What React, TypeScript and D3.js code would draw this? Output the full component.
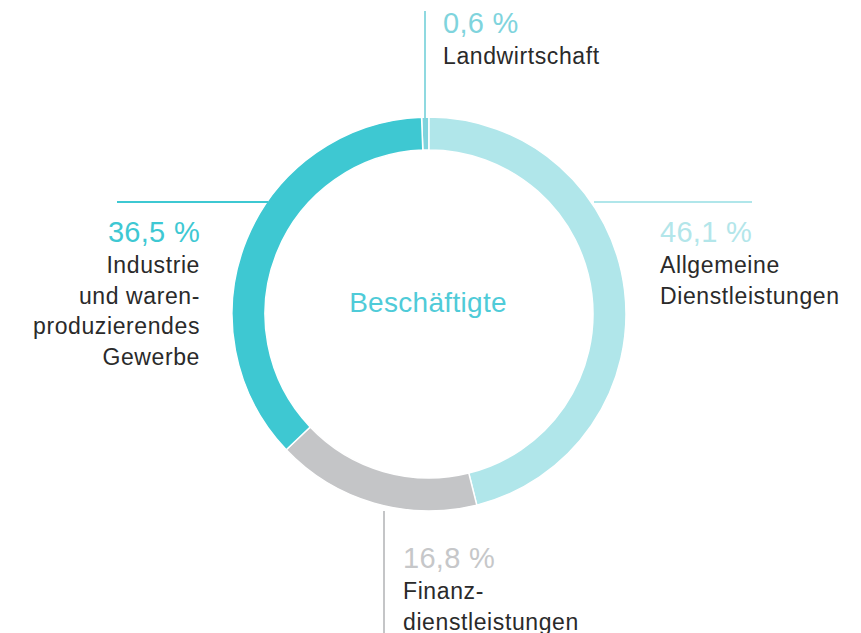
import React, { useEffect, useRef } from "react";
import * as d3 from "d3";

const categories = ["Landwirtschaft", "Allgemeine Dienstleistungen", "Finanzdienstleistungen", "Industrie und warenproduzierendes Gewerbe"];
const values = [0.6, 46.1, 16.8, 36.5];
const percentLabels = ["0,6 %", "46,1 %", "16,8 %", "36,5 %"];
const labelLines = [["Landwirtschaft"], ["Allgemeine", "Dienstleistungen"], ["Finanz-", "dienstleistungen"], ["Industrie", "und waren-", "produzierendes", "Gewerbe"]];
const centerTitle = "Beschäftigte";

const sliceColors = ["#7fd4dd", "#b0e6ea", "#c4c5c7", "#3ec8d2"];
const pctColors = ["#7fd4dd", "#b3e6ea", "#c6c7c9", "#3ec8d3"];

export default function App() {
  const ref = useRef<SVGSVGElement>(null);
  useEffect(() => {
    const svg = d3.select(ref.current);
    svg.selectAll("*").remove();
    const cx = 429, cy = 314, R = 197, r = 164;
    const font = "'Liberation Sans', Arial, sans-serif";
    const total = d3.sum(values);
    const off = (values[0] / total) * 2 * Math.PI;
    const pie = d3.pie<number>().sort(null).value((d) => d).startAngle(-off).endAngle(2 * Math.PI - off);
    const arcs = pie(values);
    const arc = d3.arc<d3.PieArcDatum<number>>().innerRadius(r).outerRadius(R);
    const g = svg.append("g").attr("transform", `translate(${cx},${cy})`);
    g.selectAll("path").data(arcs).join("path")
      .attr("d", arc as any)
      .attr("fill", (_d, i) => sliceColors[i])
      .attr("stroke", "#fff").attr("stroke-width", 1.5);

    const lines = [
      { x1: 425, y1: 11, x2: 425, y2: 118, c: "#8fd9e0" },
      { x1: 594, y1: 202, x2: 752, y2: 202, c: "#b0e6ea" },
      { x1: 117, y1: 202, x2: 268, y2: 202, c: "#3ec8d2" },
      { x1: 384, y1: 511, x2: 384, y2: 633, c: "#c4c5c7" },
    ];
    svg.selectAll("line.leader").data(lines).join("line").attr("class", "leader")
      .attr("x1", (d) => d.x1).attr("y1", (d) => d.y1).attr("x2", (d) => d.x2).attr("y2", (d) => d.y2)
      .attr("stroke", (d) => d.c).attr("stroke-width", 2);

    const labels = [
      { x: 443, y: 33, anchor: "start" },
      { x: 660, y: 242, anchor: "start" },
      { x: 403, y: 568, anchor: "start" },
      { x: 200, y: 242, anchor: "end" },
    ];
    labels.forEach((l, i) => {
      svg.append("text").attr("x", l.x).attr("y", l.y).attr("text-anchor", l.anchor)
        .attr("font-family", font).attr("font-size", 29).attr("letter-spacing", 0.3).attr("fill", pctColors[i])
        .text(percentLabels[i]);
      labelLines[i].forEach((t, j) => {
        svg.append("text").attr("x", l.x).attr("y", l.y + 31 + j * 30.5).attr("text-anchor", l.anchor)
          .attr("font-family", font).attr("font-size", 23).attr("letter-spacing", 0.6).attr("fill", "#2a2a2a")
          .text(t);
      });
    });

    svg.append("text").attr("x", cx - 1).attr("y", 312).attr("text-anchor", "middle")
      .attr("font-family", font).attr("font-size", 28).attr("letter-spacing", 0.3).attr("fill", "#4fcbd8").text(centerTitle);
  }, []);
  return (
    <svg ref={ref} width={861} height={633} style={{ position: "absolute", left: 0, top: 0, background: "#fff" }} />
  );
}
